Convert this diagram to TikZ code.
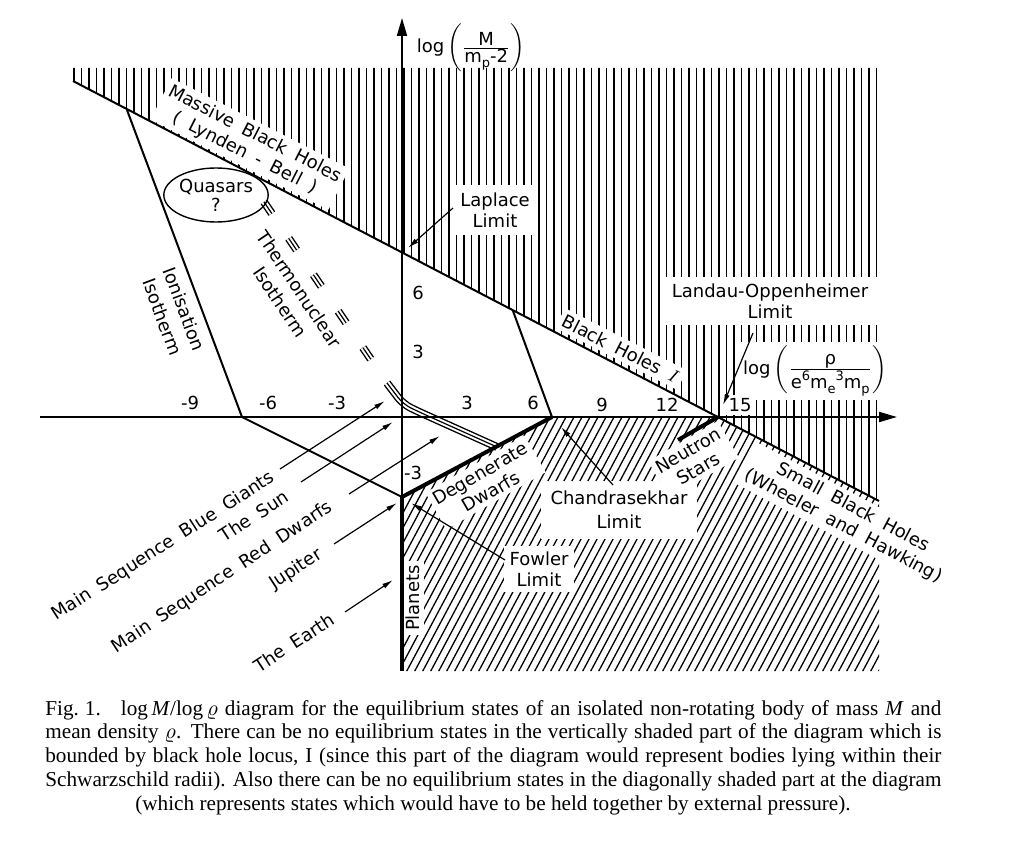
\documentclass[tikz,border=0pt]{standalone}
\usepackage{fontspec}
\setmainfont{Liberation Serif}
\newfontfamily\df[WordSpace=1.8]{DejaVu Sans}
\usetikzlibrary{arrows.meta,shapes.geometric}
\newcommand\lsub[1]{\raisebox{-0.5ex}{\fontsize{6.5}{7}\selectfont #1}}
\newcommand\lsup[1]{\raisebox{0.8ex}{\fontsize{6.5}{7}\selectfont #1}}
\newcommand\tripath[2]{%
  \draw[line width=4pt,#1] #2;
  \draw[white,line width=2.6pt,#1] #2;
  \draw[line width=0.6pt,#1] #2;}
\begin{document}
\begin{tikzpicture}[x=0.5pt,y=-0.5pt,
  lab/.style={font=\df\fontsize{9}{10.5}\selectfont, inner sep=1pt},
  wlab/.style={lab, fill=white, inner sep=3pt},
  ln/.style={line width=1pt},
  thk/.style={line width=2pt},
  hatchline/.style={line width=0.65pt},
  lead/.style={line width=0.6pt, -{Latex[length=5.5pt,width=2.6pt]}},
  axisline/.style={line width=1pt, -{Triangle[length=9pt,width=5pt]}},
  captxt/.style={font=\fontsize{10.6}{12}\selectfont, inner sep=0pt},
]
\fill[white] (0,0) rectangle (1024,861);
\useasboundingbox (0,0) rectangle (1024,861);

% key points
\coordinate (bhA) at (73,81);
\coordinate (bhB) at (879,501);
\coordinate (ionT) at (127,110);
\coordinate (ionX) at (242,417);
\coordinate (fow) at (402,497);
\coordinate (chT) at (513,311);
\coordinate (chX) at (552,417);
\coordinate (nsX) at (718,417);
\coordinate (nsE) at (678,440);
\coordinate (pl) at (402,671);
\coordinate (yTop) at (402,18);
\coordinate (xL) at (40,417);
\coordinate (xR) at (897,417);

% vertical hatching
\begin{scope}
\clip (73,68) -- (879,68) -- (bhB) -- (bhA) -- cycle;
\foreach \x in {74,81.5,...,880} \draw[hatchline] (\x,60) -- (\x,510);
\end{scope}

% diagonal hatching
\begin{scope}
\clip (fow) -- (chX) -- (nsX) -- (bhB) -- (879,671) -- (pl) -- cycle;
\foreach \c in {250,258,...,890} \draw[hatchline] (\c,680) -- ++(140,-263);
\end{scope}

% white-backed labels
\node[wlab, rotate=-27, align=center, inner sep=2pt] (mbh) at (250,144) {Massive Black Holes\\( Lynden - Bell )};
\node[wlab, align=center, inner xsep=3.5pt, inner ysep=4pt] (lapl) at (495,210) {Laplace\\Limit};
\node[wlab, align=center, inner xsep=5pt, inner ysep=3.5pt] (lando) at (770,301) {Landau-Oppenheimer\\Limit};
\node[wlab, rotate=-27, inner sep=2pt] (bh1) at (621,349) {Black Holes $I$};
\node[wlab, inner sep=2pt] (xlab) at (815,371) {log\,$\left(\frac{\mbox{ρ}}{\mbox{e\lsup{6}m\lsub{e}\lsup{3}m\lsub{p}}}\right)$};
\node[wlab, inner sep=1.5pt] (t15) at (740,405) {15};
\node[wlab, rotate=30, align=center, inner sep=2pt] (dd) at (485.5,482.5) {Degenerate\\Dwarfs};
\node[wlab, rotate=90, inner sep=2pt] (plan) at (413,598) {Planets};
\node[wlab, align=center, inner sep=3pt] (fowl) at (539,569) {Fowler\\Limit};
\node[wlab, align=center, inner xsep=5pt, inner ysep=5pt] (chand) at (619,510) {Chandrasekhar\\[1.5pt]Limit};
\node[wlab, rotate=30, align=center, inner sep=2pt] (ns) at (693.5,459.5) {Neutron\\Stars};
\node[wlab, rotate=-28, align=center, inner sep=2pt] (sbh) at (848,517) {Small Black Holes\\(Wheeler and Hawking)};

% thermonuclear isotherm (triple line)
\coordinate (th1) at (264,202);
\coordinate (th2) at (372,361);
\coordinate (th3) at (387,383);
\coordinate (th4) at (403,404);
\coordinate (th5) at (417,411);
\coordinate (th6) at (497,447);
\tripath{dash pattern=on 7pt off 15pt}{(th1) -- (th2)}
\tripath{rounded corners=4pt}{(th3) -- (th4) -- (th5) -- (th6)}

% main lines
\draw[ln] (bhA) -- (bhB);
\draw[ln] (ionT) -- (ionX) -- (fow);
\draw[ln] (chT) -- (chX);
\draw[thk] (fow) -- (chX);
\draw[thk] (fow) -- (pl);
\draw[thk] (nsE) -- (nsX);
\draw[axisline] (xL) -- (xR);
\draw[axisline] (fow) -- (yTop);

% leaders
\coordinate (lapS) at (453,208); \coordinate (lapT) at (408,248);
\coordinate (loS) at (753,333);  \coordinate (loT) at (723,405);
\coordinate (chS) at (613,485);  \coordinate (chTp) at (561,427);
\coordinate (foS) at (505,560);  \coordinate (foT) at (411,503);
\coordinate (bgS) at (280,469);  \coordinate (bgT) at (385,401);
\coordinate (sunS) at (301,482); \coordinate (sunT) at (393,422);
\coordinate (rdS) at (349,494);  \coordinate (rdT) at (440,436);
\coordinate (jupS) at (334,544); \coordinate (jupT) at (397,503);
\coordinate (earS) at (345,612); \coordinate (earT) at (393,580);
\draw[lead] (lapS) -- (lapT);
\draw[lead] (loS) -- (loT);
\draw[lead] (chS) -- (chTp);
\draw[lead] (foS) -- (foT);
\draw[lead] (bgS) -- (bgT);
\draw[lead] (sunS) -- (sunT);
\draw[lead] (rdS) -- (rdT);
\draw[lead] (jupS) -- (jupT);
\draw[lead] (earS) -- (earT);

% plain labels
\node[lab] (ylab) at (471,48) {log\,$\left(\frac{\mbox{M}}{\mbox{m\lsub{p}-2}}\right)$};
\node[lab] (tm9) at (190,403) {-9};
\node[lab] (tm6) at (268,403) {-6};
\node[lab] (tm3) at (337,403) {-3};
\node[lab] (tp3) at (467,403) {3};
\node[lab] (tp6) at (533,403) {6};
\node[lab] (tp9) at (602,405) {9};
\node[lab] (tp12) at (667,405) {12};
\node[lab] (ty6) at (418,293) {6};
\node[lab] (ty3) at (418,352) {3};
\node[lab] (tym3) at (413,473) {-3};
\node[lab, draw, ellipse, line width=0.7pt, align=center, inner sep=0pt, minimum width=41pt, minimum height=27pt] (qua) at (216,195) {Quasars\\[-1pt]?};
\node[lab, rotate=-69.5, align=center] (ion) at (173.5,313) {Ionisation\\[1pt]Isotherm};
\node[lab, rotate=-56, align=center] (thn) at (290,295.5) {Thermonuclear\\[1pt]Isotherm};
\node[lab, rotate=32.7] (bg) at (163.5,546.5) {Main Sequence Blue Giants};
\node[lab, rotate=33] (sun) at (254,516) {The Sun};
\node[lab, rotate=33.4] (rd) at (222.5,577.5) {Main Sequence Red Dwarfs};
\node[lab, rotate=33] (jup) at (296,569.5) {Jupiter};
\node[lab, rotate=33] (ear) at (294,642.5) {The Earth};

% caption
\node[captxt, anchor=base west] (c1) at (45,715) {\makebox[448pt][s]{Fig.\hspace{3pt}1.\hspace{10pt}log\,\textit{M}/log\,$\varrho$ diagram for the equilibrium states of an isolated non-rotating body of mass \textit{M} and}};
\node[captxt, anchor=base west] (c2) at (45,738) {\makebox[448pt][s]{mean density $\varrho$. There can be no equilibrium states in the vertically shaded part of the diagram which is}};
\node[captxt, anchor=base west] (c3) at (45,762) {\makebox[448pt][s]{bounded by black hole locus, I (since this part of the diagram would represent bodies lying within their}};
\node[captxt, anchor=base west] (c4) at (45,786) {\makebox[448pt][s]{Schwarzschild radii). Also there can be no equilibrium states in the diagonally shaded part at the diagram}};
\node[captxt, anchor=base] (c5) at (493,810) {(which represents states which would have to be held together by external pressure).};
\end{tikzpicture}
\end{document}
